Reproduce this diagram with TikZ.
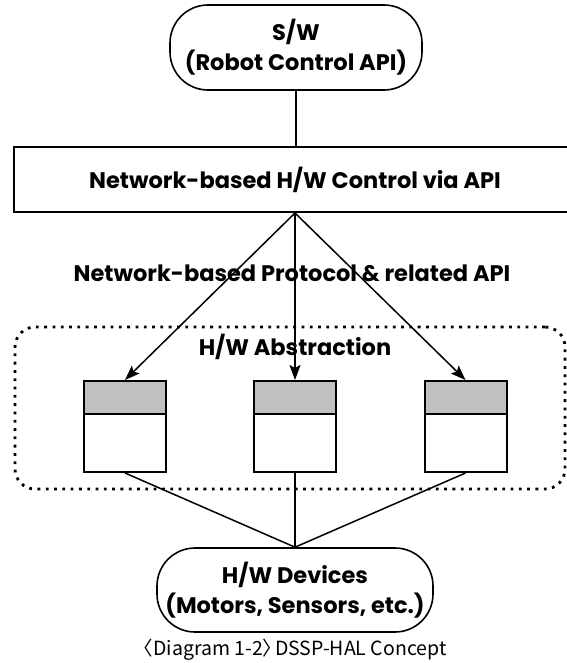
\documentclass[tikz,border=0pt]{standalone}
\usepackage{fontspec}
\setmainfont{Poppins}
\newfontfamily\capfont{Noto Sans CJK KR}
\usetikzlibrary{arrows.meta}
\definecolor{boxgray}{RGB}{192,192,192}
\begin{document}
\begin{tikzpicture}[x=1pt,y=-1pt,
  txt/.style={font=\bfseries\fontsize{22.5}{30}\selectfont, align=center},
  stadium/.style={txt, draw, line width=1.6pt, rounded corners=38pt, inner sep=0pt},
  widebox/.style={txt, draw, line width=2pt, minimum width=562pt, minimum height=65pt, inner sep=0pt},
  halbox/.style={draw, line width=2pt, minimum width=82pt, minimum height=91pt, inner sep=0pt,
    path picture={
      \fill[boxgray] (path picture bounding box.north west) rectangle ([yshift=-33pt]path picture bounding box.north east);
      \draw[line width=2pt] ([yshift=-33pt]path picture bounding box.north west) -- ([yshift=-33pt]path picture bounding box.north east);
    }},
  frame/.style={draw, line width=2.8pt, dash pattern=on 2.8pt off 5.5pt, rounded corners=20pt, minimum width=550pt, minimum height=162pt},
  conn/.style={line width=1.5pt},
  arr/.style={conn, -{Stealth[length=15pt,width=11pt,inset=3pt]}}
]
\useasboundingbox (0,0) rectangle (566,663);

\node[stadium, minimum width=252pt, minimum height=85pt] (sw) at (296,47.5) {S/W\\(Robot Control API)};
\node[widebox] (api) at (295,179.5) {Network-based H/W Control via API};

\node[frame] (frm) at (290,408) {};
\node[txt] (abs) at (295,347) {H/W Abstraction};

\node[halbox] (b1) at (125,426.5) {};
\node[halbox] (b2) at (295,426.5) {};
\node[halbox] (b3) at (465.5,426.5) {};

\node[stadium, minimum width=276pt, minimum height=84pt] (dev) at (295,590) {H/W Devices\\(Motors, Sensors, etc.)};

\node[txt] (proto) at (292,273) {Network-based Protocol \& related API};

\draw[conn] (sw.south) -- (api.north -| sw.south);
\draw[arr] (api.south) -- (b1.north);
\draw[arr] (api.south) -- (b2.north);
\draw[arr] (api.south) -- (b3.north);
\draw[conn] (b1.south) -- (dev.north);
\draw[conn] (b2.south) -- (dev.north);
\draw[conn] (b3.south) -- (dev.north);

\node[font=\capfont\fontsize{19.5}{22}\selectfont, inner sep=0pt] (cap) at (295,650) {\kern-0.5em〈Diagram 1-2〉\kern-0.6em\ DSSP-HAL Concept};
\end{tikzpicture}
\end{document}
